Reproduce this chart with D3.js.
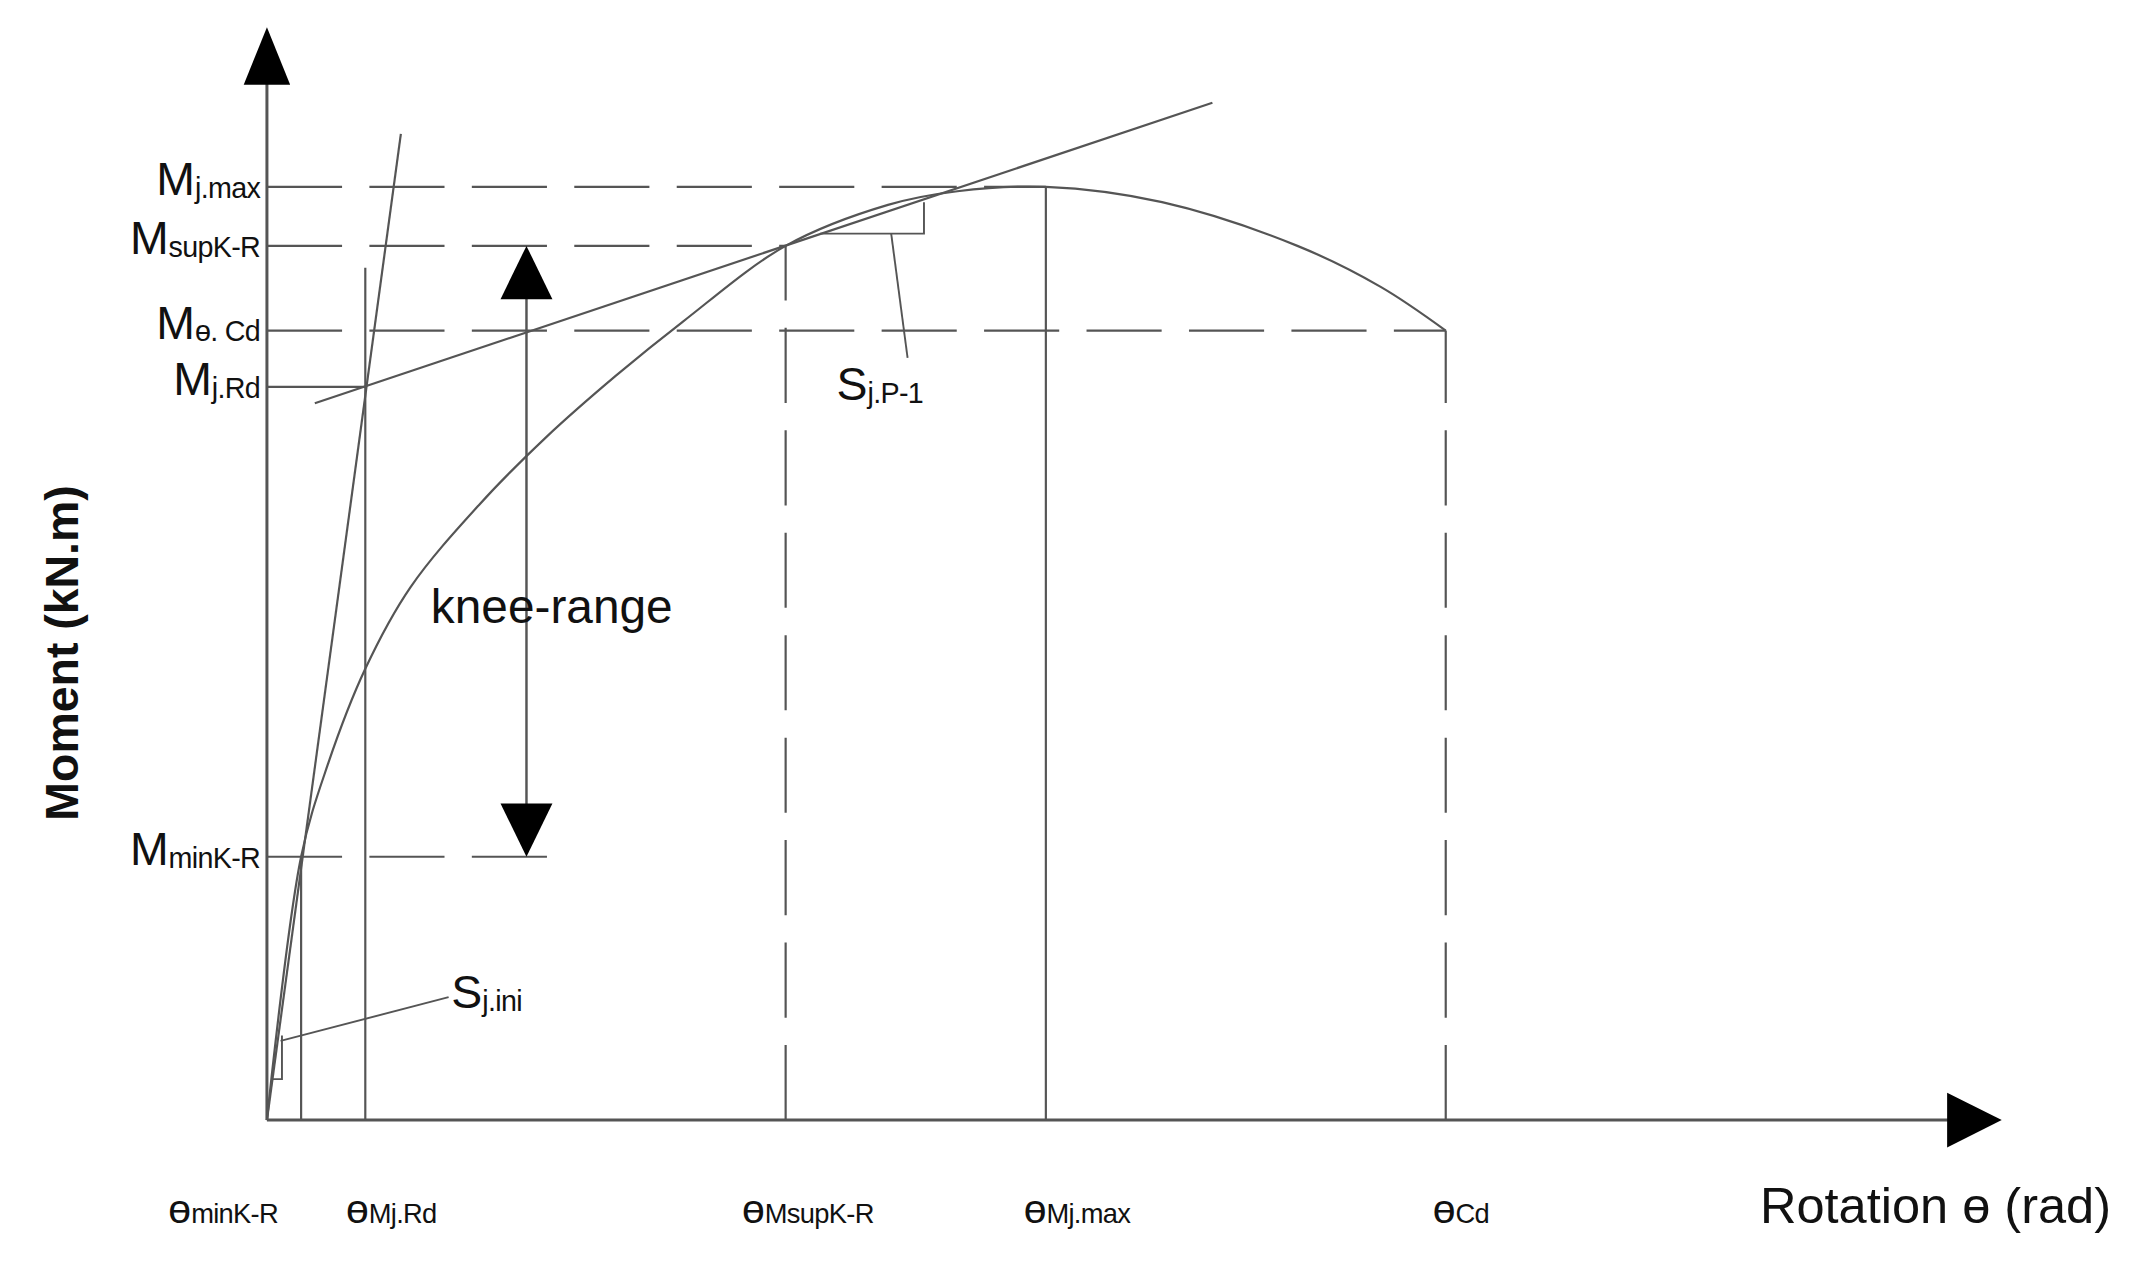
<!DOCTYPE html>
<html><head><meta charset="utf-8">
<script src="https://cdn.jsdelivr.net/npm/d3@7"></script>
<style>body{margin:0;background:#fff}text{font-family:"Liberation Sans",Arial,sans-serif;fill:#111}</style>
</head><body>
<script>
// moment-rotation curve (arbitrary units 0..100)
var curveTheta = [0, 1.97, 3.5, 5.67, 8.27, 12.2, 16.1, 20.1, 24.0, 29.9, 35.8, 39.8, 44.9, 51.6, 59.4, 64.2, 67.95];
var curveM     = [0, 24.1, 32.5, 41.3, 48.75, 56.25, 62.5, 68.1, 73.1, 80, 83.75, 85, 85.4, 84, 80, 76.25, 72.25];
// characteristic levels
var mLabels = [["M","j.max"],["M","supK-R"],["M","ө. Cd"],["M","j.Rd"],["M","minK-R"]];
var mValues = [85.4, 80, 72.25, 67.1, 24.1];
var tLabels = [["ө","minK-R"],["ө","Mj.Rd"],["ө","MsupK-R"],["ө","Mj.max"],["ө","Cd"]];
var tValues = [1.97, 5.67, 29.9, 44.9, 67.95];
var tLabelPos = [163, 286, 591, 788, 1069];
// tangent lines [theta0, M0, theta1, M1]
var iniLine = [0, 0, 7.72, 90.25];
var tanLine = [2.76, 65.6, 54.5, 93.1];

var svg = d3.select("body").append("svg")
  .attr("width", 2143).attr("height", 1269).attr("viewBox", "0 0 1568 929");
var x = d3.scaleLinear().domain([0, 100]).range([195, 1465]);
var y = d3.scaleLinear().domain([0, 100]).range([820, 20]);
var ink = "#555", dash = "55,20";

function seg(x1, y1, x2, y2, dashed, w) {
  svg.append("line").attr("x1", x1).attr("y1", y1).attr("x2", x2).attr("y2", y2)
    .attr("stroke", ink).attr("stroke-width", w || 1.6).attr("stroke-dasharray", dashed ? dash : null);
}

// axes
seg(x(0), y(0), x(97), y(0), false, 2.2);
seg(x(0), y(0), x(0), y(95), false, 2.2);
svg.append("path").attr("d", "M" + x(100) + "," + y(0) + "l-40,-20v40z").attr("fill", "#000");
svg.append("path").attr("d", "M" + x(0) + "," + y(100) + "l-17,42h34z").attr("fill", "#000");

// horizontal reference lines
var hEnd = [tValues[3], tValues[2], tValues[4], tValues[1], 17.1];
mValues.forEach(function(m, i) {
  seg(x(0), y(m), x(hEnd[i]), y(m), i != 3);
});
// vertical reference lines
var vTop = [mValues[4], 78, mValues[1], mValues[0], mValues[2]];
var vDash = [false, false, true, false, true];
tValues.forEach(function(t, i) { seg(x(t), y(0), x(t), y(vTop[i]), vDash[i]); });

// curve
svg.append("path").datum(curveTheta.map(function(t, i) { return [t, curveM[i]]; }))
  .attr("d", d3.line().x(function(d) { return x(d[0]); }).y(function(d) { return y(d[1]); }).curve(d3.curveCatmullRom.alpha(0.5)))
  .attr("fill", "none").attr("stroke", ink).attr("stroke-width", 1.6);

// stiffness lines
seg(x(iniLine[0]), y(iniLine[1]), x(iniLine[2]), y(iniLine[3]));
seg(x(tanLine[0]), y(tanLine[1]), x(tanLine[2]), y(tanLine[3]));
// slope triangles + leaders
svg.append("path").attr("d", "M600,171H676V148").attr("fill", "none").attr("stroke", ink).attr("stroke-width", 1.4);
seg(652, 171, 664, 262, false, 1.4);
svg.append("path").attr("d", "M199,790H206V758").attr("fill", "none").attr("stroke", ink).attr("stroke-width", 1.4);
seg(205, 762, 328, 730, false, 1.4);

// knee-range double arrow
var ax = 385;
seg(ax, y(80) + 38, ax, y(24.1) - 38, false, 1.8);
svg.append("path").attr("d", "M" + ax + "," + y(80) + "l-19,39h38z").attr("fill", "#000");
svg.append("path").attr("d", "M" + ax + "," + y(24.1) + "l-19,-39h38z").attr("fill", "#000");

function label(px, py, big, small, anchor, bs, ss, dy) {
  var t = svg.append("text").attr("x", px).attr("y", py).attr("text-anchor", anchor);
  t.append("tspan").attr("font-size", bs).text(big);
  t.append("tspan").attr("font-size", ss).attr("dy", dy).attr("letter-spacing", -0.5).text(small);
}
mLabels.forEach(function(l, i) { label(190, y(mValues[i]) + 6, l[0], l[1], "end", 34, 21, 2); });
tLabels.forEach(function(l, i) { label(tLabelPos[i], 895, l[0], l[1], "middle", 30, 20, 0); });
label(612, 293, "S", "j.P-1", "start", 34, 21, 2);
label(330, 738, "S", "j.ini", "start", 34, 21, 2);

svg.append("text").attr("x", 315).attr("y", 456).attr("font-size", 35).text("knee-range");
svg.append("text").attr("x", 1545).attr("y", 895).attr("text-anchor", "end").attr("font-size", 37).text("Rotation ө (rad)");
svg.append("text").attr("transform", "translate(57,478) rotate(-90)").attr("text-anchor", "middle")
  .attr("font-size", 34).attr("font-weight", "bold").attr("fill", "#222").text("Moment (kN.m)");
</script>
</body></html>
